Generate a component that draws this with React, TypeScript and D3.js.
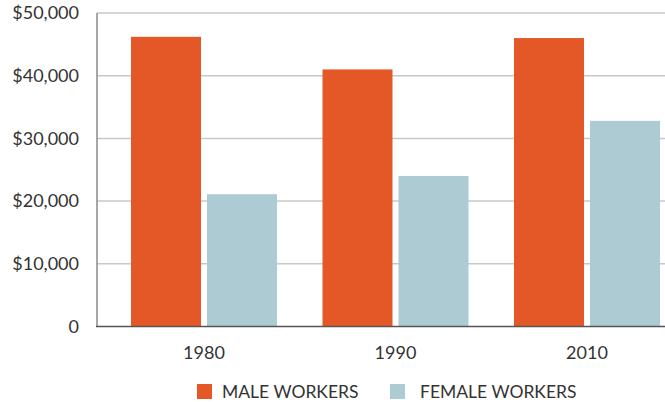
import React from 'react'
import * as d3 from 'd3'

const years = ['1980', '1990', '2010']
const series = ['MALE WORKERS', 'FEMALE WORKERS']
const maleValues = [46200, 41000, 46000]
const femaleValues = [21100, 24000, 32800]
const yTicks = [0, 10000, 20000, 30000, 40000, 50000]

const colors = ['#E35826', '#ADCBD2']

const width = 665
const height = 402

const App: React.FC = () => {
  const left = 97
  const top = 13
  const bottom = 326.5

  const x0 = d3.scaleBand<string>().domain(years).range([left, left + 191.5 * 3])
  const x1 = d3.scaleBand<string>().domain(series).range([34, 180]).paddingInner(6 / 76)
  const y = d3.scaleLinear().domain([0, 50000]).range([bottom, top])

  const fmt = (v: number) => (v === 0 ? '0' : '$' + d3.format(',')(v))
  const rows = years.map((yr, i) => ({ year: yr, values: [maleValues[i], femaleValues[i]] }))
  // legend placement
  const legend = [
    { x: 197, tx: 222 },
    { x: 390, tx: 420 },
  ]

  return (
    <>
      <style>{'body{margin:0}'}</style>
      <svg width={width} height={height} style={{ display: 'block', fontFamily: 'Lato, sans-serif' }}>
        {yTicks.filter(t => t > 0).map(t => (
          <line key={t} x1={left} x2={width} y1={y(t)} y2={y(t)} stroke="#c8c8c8" strokeWidth={1.5} />
        ))}
        <line x1={left} x2={left} y1={top} y2={bottom} stroke="#8a8a8a" strokeWidth={1.5} />
        {yTicks.map(t => (
          <text key={t} x={79} y={y(t)} dy="0.35em" textAnchor="end" fontSize={18} fill="#333">
            {fmt(t)}
          </text>
        ))}
        {rows.map(r => (
          <g key={r.year} transform={`translate(${x0(r.year)},0)`}>
            {r.values.map((v, j) => (
              <rect key={j} x={x1(series[j])} y={y(v)} width={x1.bandwidth()} height={bottom - y(v)} fill={colors[j]} />
            ))}
            <text x={(x1(series[0])! + x1(series[1])! + x1.bandwidth()) / 2} y={359} textAnchor="middle" fontSize={18} fill="#333">
              {r.year}
            </text>
          </g>
        ))}
        <line x1={left - 1} x2={width} y1={bottom} y2={bottom} stroke="#555" strokeWidth={1.5} />
        {series.map((s, i) => (
          <g key={s}>
            <rect x={legend[i].x} y={384} width={15} height={15} fill={colors[i]} />
            <text x={legend[i].tx} y={397.5} fontSize={17.5} fill="#333">{s}</text>
          </g>
        ))}
      </svg>
    </>
  )
}

export default App
